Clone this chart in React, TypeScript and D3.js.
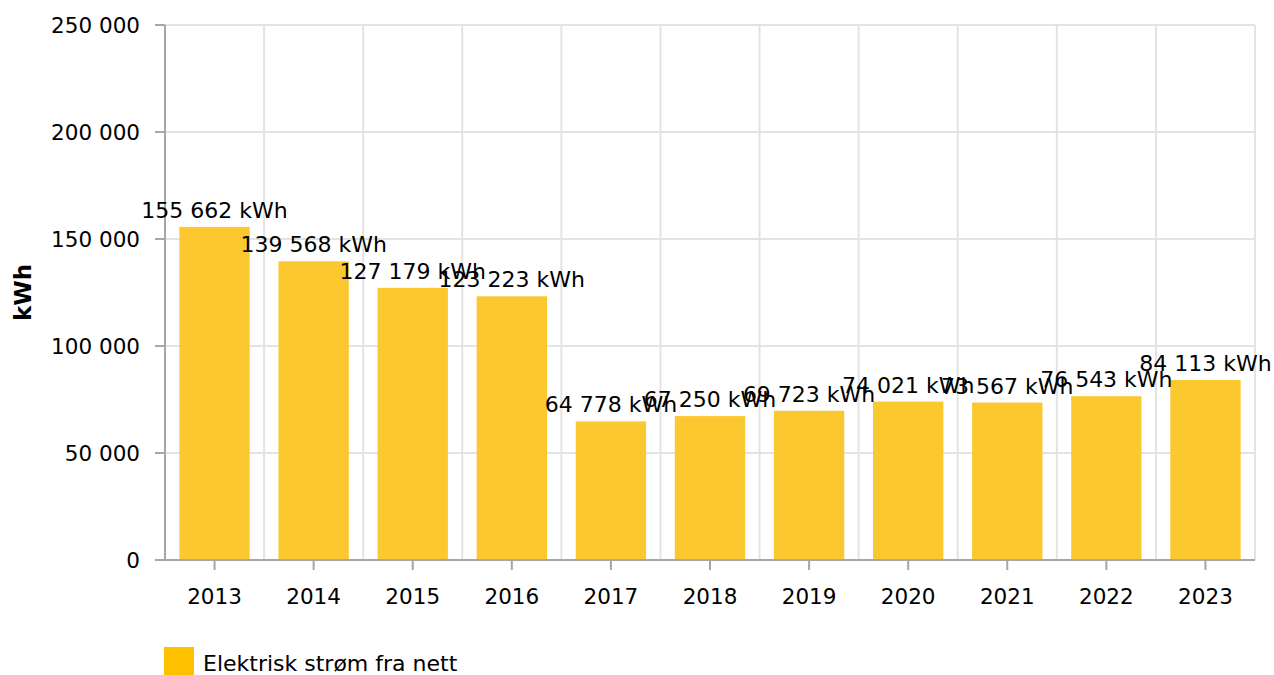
import React from "react";
import * as d3 from "d3";

const years = ["2013", "2014", "2015", "2016", "2017", "2018", "2019", "2020", "2021", "2022", "2023"];
const values = [155662, 139568, 127179, 123223, 64778, 67250, 69723, 74021, 73567, 76543, 84113];
const yTicks = [0, 50000, 100000, 150000, 200000, 250000];
const seriesName = "Elektrisk strøm fra nett";
const unitLabel = "kWh";

const W = 1274;
const H = 675;
const left = 165;
const right = 1255;
const top = 25;
const bottom = 560;
const font = "'DejaVu Sans', Verdana, sans-serif";

const fmt = (v: number) => {
  const s = String(Math.round(v));
  return s.replace(/\B(?=(\d{3})+(?!\d))/g, " ");
};

export default function App() {
  const x = d3.scaleBand<string>().domain(years).range([left, right]).padding(0);
  const y = d3.scaleLinear().domain([0, 250000]).range([bottom, top]);
  const bw = x.bandwidth();
  const barW = bw * 0.71;
  const boundaries = years.map((yr) => x(yr) as number).concat([right]);

  return (
    <svg width={W} height={H} style={{ position: "absolute", left: 0, top: 0 }} fontFamily={font}>
      <rect x={0} y={0} width={W} height={H} fill="#fff" />
      {yTicks.map((t) => (
        <line key={"h" + t} x1={left} x2={right} y1={y(t)} y2={y(t)} stroke="#e3e3e3" strokeWidth={2} />
      ))}
      {boundaries.map((b, i) => (
        <line key={"v" + i} x1={b} x2={b} y1={top} y2={bottom} stroke="#e3e3e3" strokeWidth={2} />
      ))}
      {years.map((yr, i) => {
        const cx = (x(yr) as number) + bw / 2;
        return (
          <rect
            key={"b" + yr}
            x={cx - barW / 2}
            y={y(values[i])}
            width={barW}
            height={bottom - y(values[i])}
            fill="#fcc830"
          />
        );
      })}
      <line x1={left} x2={left} y1={top} y2={bottom + 1} stroke="#a6a6a6" strokeWidth={2} />
      <line x1={left - 10} x2={right} y1={bottom} y2={bottom} stroke="#a6a6a6" strokeWidth={2} />
      {yTicks.map((t) => (
        <g key={"yt" + t}>
          <line x1={left - 10} x2={left} y1={y(t)} y2={y(t)} stroke="#a6a6a6" strokeWidth={2} />
          <text x={140} y={y(t)} dy="0.35em" textAnchor="end" fontSize={21.5} fill="#000">
            {fmt(t)}
          </text>
        </g>
      ))}
      {years.map((yr) => {
        const cx = (x(yr) as number) + bw / 2;
        return (
          <g key={"xt" + yr}>
            <line x1={cx} x2={cx} y1={bottom} y2={bottom + 10} stroke="#a6a6a6" strokeWidth={2} />
            <text x={cx} y={604} textAnchor="middle" fontSize={21.5} fill="#000">
              {yr}
            </text>
          </g>
        );
      })}
      {years.map((yr, i) => {
        const cx = (x(yr) as number) + bw / 2;
        return (
          <text key={"l" + yr} x={cx} y={y(values[i]) - 9} textAnchor="middle" fontSize={22} fill="#000">
            {fmt(values[i]) + " kWh"}
          </text>
        );
      })}
      <text
        transform={`translate(31, ${(top + bottom) / 2}) rotate(-90)`}
        textAnchor="middle"
        fontSize={23}
        fontWeight="bold"
        fill="#000"
      >
        {unitLabel}
      </text>
      <rect x={164} y={647} width={30} height={28} fill="#ffc000" />
      <text x={203} y={671} fontSize={22} fill="#000">
        {seriesName}
      </text>
    </svg>
  );
}
